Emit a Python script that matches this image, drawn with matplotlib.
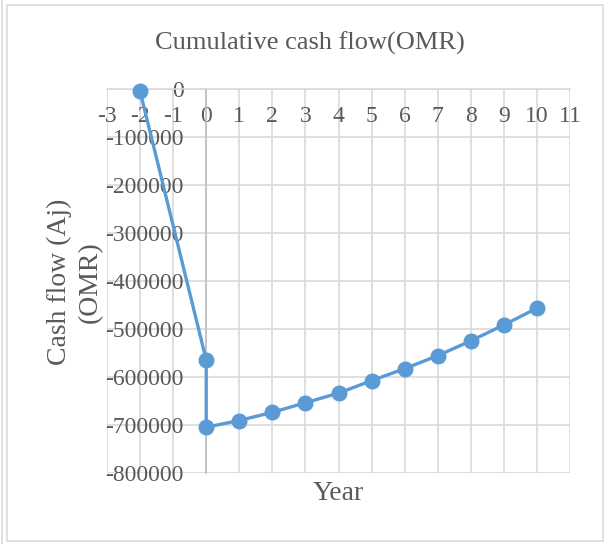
import matplotlib.pyplot as plt
from matplotlib.patches import Rectangle
from matplotlib.lines import Line2D

# Data
years = [-2, 0, 0, 1, 2, 3, 4, 5, 6, 7, 8, 9, 10]
cumulative = [-4000, -564000, -704000, -690000, -673000, -653000, -633000,
              -607000, -582000, -555000, -524000, -491000, -456000]
x_ticks = list(range(-3, 12))
y_ticks = list(range(-800000, 1, 100000))

W, H = 605, 544
txt = '#595959'
grid_c = '#d9d9d9'
plt.rcParams['font.family'] = ['Liberation Serif', 'DejaVu Serif']
plt.rcParams['axes.unicode_minus'] = False

fig = plt.figure(figsize=(W / 100, H / 100), dpi=100)

# outer chart border
fig.patches.append(Rectangle((7 / W, 1 - 541 / H), 596 / W, 536 / H,
                             transform=fig.transFigure, fill=False,
                             edgecolor=grid_c, linewidth=1.2))
fig.lines.append(Line2D([2 / W, 2 / W], [0, 1], transform=fig.transFigure,
                        color=grid_c, linewidth=1.2))

left, right = 107 / W, 570 / W
top, bottom = 1 - 89.3 / H, 1 - 473.3 / H
ax = fig.add_axes([left, bottom, right - left, top - bottom])

ax.plot(years, cumulative, color='#5b9bd5', linewidth=2.4, marker='o',
        markersize=10.5, clip_on=False, zorder=5)

ax.set_xlim(-3, 11)
ax.set_ylim(-800000, 0)
ax.set_xticks(x_ticks)
ax.set_yticks(y_ticks)
ax.set_yticklabels([str(v) for v in y_ticks])
ax.grid(True, color=grid_c, linewidth=1.2)
ax.set_axisbelow(True)

# axes cross at the origin like Excel
ax.spines['left'].set_position(('data', 0))
ax.spines['bottom'].set_position(('data', 0))
ax.spines['left'].set_color('#bfbfbf')
ax.spines['bottom'].set_color(grid_c)
ax.spines['left'].set_linewidth(1.2)
ax.spines['bottom'].set_linewidth(1.2)
ax.spines['top'].set_visible(False)
ax.spines['right'].set_visible(False)

ax.tick_params(axis='x', length=0, pad=12, labelsize=17, labelcolor=txt)
ax.tick_params(axis='y', length=0, pad=16, labelsize=17, labelcolor=txt)

fig.text(310 / W, 1 - 43 / H, 'Cumulative cash flow(OMR)', ha='center',
         va='center', fontsize=19, color=txt)
fig.text(338 / W, 1 - 493 / H, 'Year', ha='center', va='center',
         fontsize=20, color=txt)
fig.text(75 / W, 1 - 282 / H, 'Cash flow (Aj)\n(OMR)', ha='center',
         va='center', rotation=90, multialignment='center',
         fontsize=20, color=txt, linespacing=1.3)

fig.savefig('out.png', dpi=100)
